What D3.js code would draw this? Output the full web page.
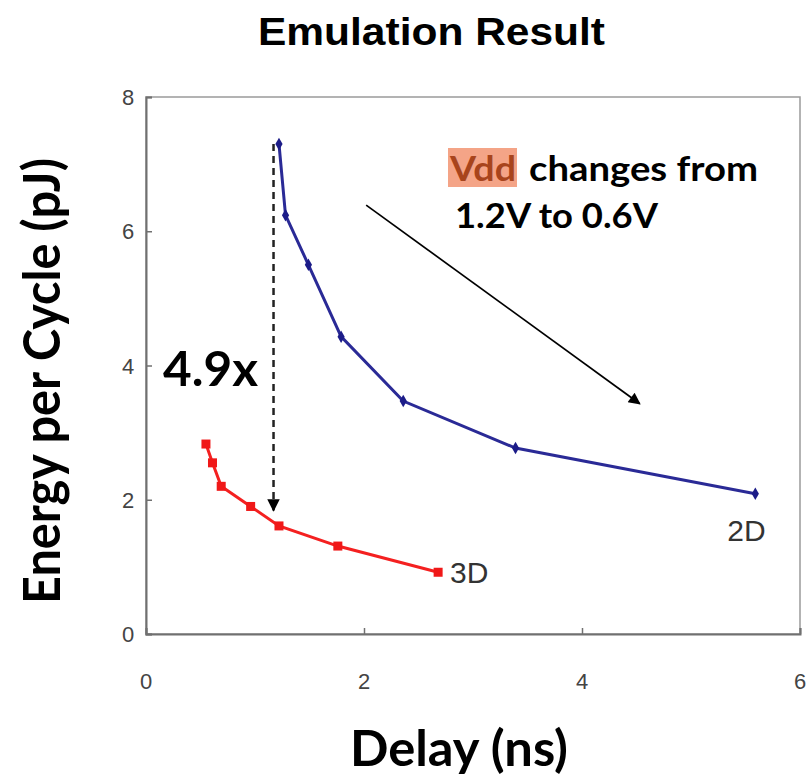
<!DOCTYPE html>
<html>
<head>
<meta charset="utf-8">
<script src="https://cdn.jsdelivr.net/npm/d3@7"></script>
<style>
  body { margin: 0; background: #fff; }
  svg { display: block; }
</style>
</head>
<body>
<div id="chart"></div>
<script>
// values
const delay2D = [1.22, 1.28, 1.49, 1.79, 2.36, 3.39, 5.59]
const energy2D = [7.30, 6.24, 5.50, 4.43, 3.47, 2.77, 2.09]
const delay3D = [0.55, 0.61, 0.69, 0.96, 1.22, 1.76, 2.68]
const energy3D = [2.83, 2.55, 2.20, 1.90, 1.61, 1.31, 0.92]
const xTicks = [0, 2, 4, 6]
const yTicks = [0, 2, 4, 6, 8]
// annotation arrows, in data units
const gapArrow = [[1.17, 7.30], [1.17, 1.84]]
const vddArrow = [[2.02, 6.39], [4.53, 3.43]]

const width = 809, height = 776
const margin = { top: 97, right: 9, bottom: 142, left: 146 }
const boundedWidth = width - margin.left - margin.right
const boundedHeight = height - margin.top - margin.bottom

const svg = d3.select('#chart').append('svg')
  .attr('width', width)
  .attr('height', height)

const defs = svg.append('defs')
defs.append('marker')
  .attr('id', 'head')
  .attr('viewBox', '0 0 10 10')
  .attr('refX', 9).attr('refY', 5)
  .attr('markerWidth', 5).attr('markerHeight', 5)
  .attr('markerUnits', 'strokeWidth')
  .attr('orient', 'auto')
  .append('path').attr('d', 'M0,0 L10,5 L0,10 z').attr('fill', '#000')
defs.append('marker')
  .attr('id', 'head2')
  .attr('viewBox', '0 0 10 10')
  .attr('refX', 9).attr('refY', 5)
  .attr('markerWidth', 9).attr('markerHeight', 7)
  .attr('markerUnits', 'strokeWidth')
  .attr('orient', 'auto')
  .append('path').attr('d', 'M0,0 L10,5 L0,10 z').attr('fill', '#000')

// title
svg.append('text')
  .attr('x', 258).attr('y', 45)
  .attr('textLength', 347).attr('lengthAdjust', 'spacingAndGlyphs')
  .style('font-family', '"Liberation Sans", Arial, sans-serif')
  .style('font-weight', 'bold')
  .style('font-size', '38px')
  .text('Emulation Result')

const wrapper = svg.append('g')
  .attr('transform', `translate(${margin.left}, ${margin.top})`)

const x = d3.scaleLinear().domain([0, 6]).range([0, boundedWidth])
const y = d3.scaleLinear().domain([0, 8]).range([boundedHeight, 0])

// frame: light top/right, darker left/bottom
wrapper.append('rect')
  .attr('width', boundedWidth).attr('height', boundedHeight)
  .attr('fill', 'none').attr('stroke', '#9a9a9a').attr('stroke-width', 1.5)

const yAxis = wrapper.append('g')
  .call(d3.axisRight(y).tickValues(yTicks).tickSize(6).tickFormat(''))
yAxis.select('.domain').attr('stroke', '#707070').attr('stroke-width', 2)
yAxis.selectAll('.tick line').attr('stroke', '#707070').attr('stroke-width', 1.5)

const xAxis = wrapper.append('g')
  .attr('transform', `translate(0, ${boundedHeight})`)
  .call(d3.axisTop(x).tickValues(xTicks).tickSize(6).tickFormat(''))
xAxis.select('.domain').attr('stroke', '#707070').attr('stroke-width', 2)
xAxis.selectAll('.tick line').attr('stroke', '#707070').attr('stroke-width', 1.5)

// tick labels
const tickFont = '"Liberation Sans", Arial, sans-serif'
wrapper.append('g').selectAll('text')
  .data(yTicks)
  .join('text')
  .attr('x', -18).attr('y', d => y(d) + 8)
  .attr('text-anchor', 'middle')
  .style('font-family', tickFont).style('font-size', '22px').attr('fill', '#444')
  .text(d => d)
wrapper.append('g').selectAll('text')
  .data(xTicks)
  .join('text')
  .attr('x', d => x(d)).attr('y', boundedHeight + 55)
  .attr('text-anchor', 'middle')
  .style('font-family', tickFont).style('font-size', '22px').attr('fill', '#444')
  .text(d => d)

// axis titles
const labelFont = 'Lato, "Open Sans", sans-serif'
svg.append('text')
  .attr('transform', 'translate(60, 381) rotate(-90)')
  .attr('text-anchor', 'middle')
  .attr('textLength', 446).attr('lengthAdjust', 'spacingAndGlyphs')
  .style('font-family', labelFont).style('font-weight', 'bold').style('font-size', '52px')
  .text('Energy per Cycle (pJ)')
svg.append('text')
  .attr('x', 350).attr('y', 766)
  .attr('textLength', 218).attr('lengthAdjust', 'spacingAndGlyphs')
  .style('font-family', labelFont).style('font-weight', 'bold').style('font-size', '49px')
  .text('Delay (ns)')

const line = d3.line().x(d => x(d[0])).y(d => y(d[1]))
const pts2D = delay2D.map((d, i) => [d, energy2D[i]])
const pts3D = delay3D.map((d, i) => [d, energy3D[i]])

// dashed gap arrow
wrapper.append('path')
  .attr('d', line(gapArrow))
  .attr('stroke', '#222').attr('stroke-width', 2.5)
  .attr('stroke-dasharray', '7,5')
  .attr('fill', 'none')
  .attr('marker-end', 'url(#head)')

// Vdd arrow
wrapper.append('path')
  .attr('d', line(vddArrow))
  .attr('stroke', '#000').attr('stroke-width', 1.7)
  .attr('fill', 'none')
  .attr('marker-end', 'url(#head2)')

// 2D series
wrapper.append('path')
  .attr('d', line(pts2D))
  .attr('fill', 'none').attr('stroke', '#2a2a96').attr('stroke-width', 3)
wrapper.append('g').selectAll('path')
  .data(pts2D)
  .join('path')
  .attr('transform', d => `translate(${x(d[0])}, ${y(d[1])})`)
  .attr('d', d3.symbol(d3.symbolDiamond, 45))
  .attr('fill', '#1c1c88')

// 3D series
wrapper.append('path')
  .attr('d', line(pts3D))
  .attr('fill', 'none').attr('stroke', '#f42020').attr('stroke-width', 3)
wrapper.append('g').selectAll('rect')
  .data(pts3D)
  .join('rect')
  .attr('x', d => x(d[0]) - 4.5).attr('y', d => y(d[1]) - 4.5)
  .attr('width', 9).attr('height', 9)
  .attr('fill', '#f01818')

// series labels
wrapper.append('text')
  .attr('x', x(delay3D[delay3D.length - 1]) + 12).attr('y', y(energy3D[energy3D.length - 1]) + 11)
  .style('font-family', tickFont).style('font-size', '30px').attr('fill', '#333')
  .text('3D')
wrapper.append('text')
  .attr('x', x(delay2D[delay2D.length - 1]) - 28).attr('y', y(energy2D[energy2D.length - 1]) + 47)
  .style('font-family', tickFont).style('font-size', '30px').attr('fill', '#333')
  .text('2D')

// annotations
svg.append('text')
  .attr('x', 163).attr('y', 386)
  .attr('textLength', 95).attr('lengthAdjust', 'spacingAndGlyphs')
  .style('font-family', labelFont).style('font-weight', 'bold').style('font-size', '47px')
  .text('4.9x')

svg.append('rect')
  .attr('x', 448).attr('y', 148).attr('width', 69).attr('height', 39)
  .attr('fill', '#f4a487')
svg.append('text')
  .attr('x', 450).attr('y', 181)
  .attr('textLength', 66).attr('lengthAdjust', 'spacingAndGlyphs')
  .style('font-family', labelFont).style('font-weight', 'bold').style('font-size', '34px')
  .attr('fill', '#a8441c')
  .text('Vdd')
svg.append('text')
  .attr('x', 529).attr('y', 181)
  .attr('textLength', 229).attr('lengthAdjust', 'spacingAndGlyphs')
  .style('font-family', labelFont).style('font-weight', 'bold').style('font-size', '34px')
  .text('changes from')
svg.append('text')
  .attr('x', 455).attr('y', 228)
  .attr('textLength', 203).attr('lengthAdjust', 'spacingAndGlyphs')
  .style('font-family', labelFont).style('font-weight', 'bold').style('font-size', '34px')
  .text('1.2V to 0.6V')
</script>
</body>
</html>
